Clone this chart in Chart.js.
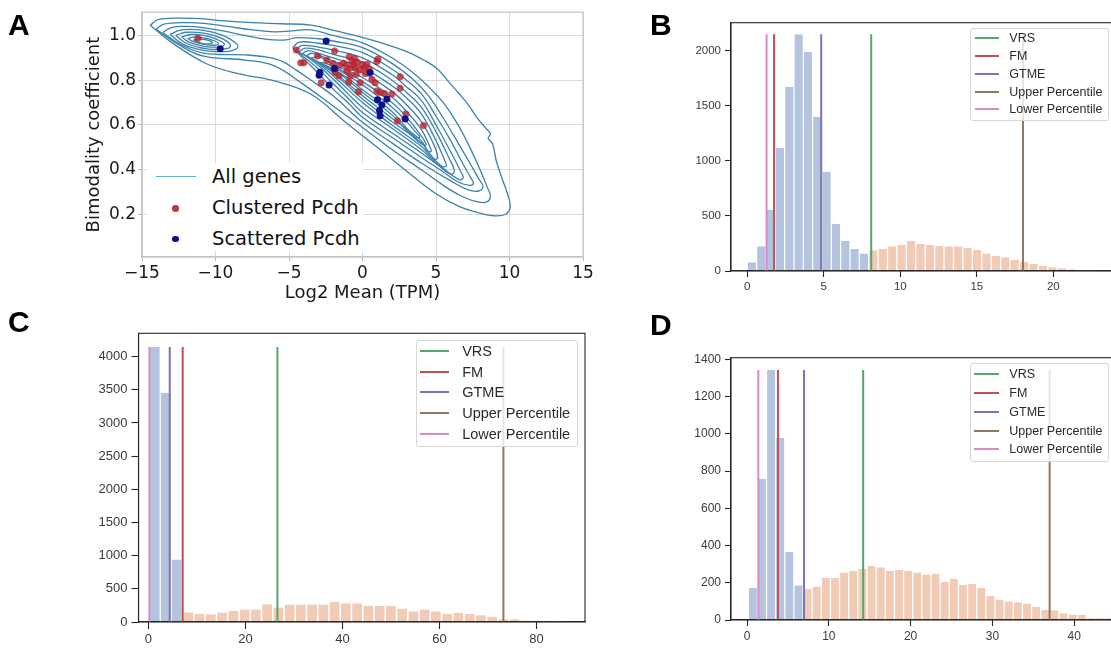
<!DOCTYPE html>
<html><head><meta charset="utf-8">
<script src="https://cdn.jsdelivr.net/npm/chart.js@4/dist/chart.umd.min.js"></script>
<style>
html,body{margin:0;padding:0;background:#fff;overflow:hidden;width:1111px;height:648px;}
#wrap{position:relative;width:1111px;height:648px;overflow:hidden;background:#fff;}
canvas{position:absolute;left:0;top:0;}
.letter{position:absolute;font-family:"Liberation Sans",Arial,sans-serif;font-weight:bold;font-size:30px;line-height:30px;color:#000;}
.box{position:absolute;box-sizing:border-box;}
.txt{position:absolute;white-space:nowrap;}
.sw{position:absolute;}
</style></head>
<body><div id="wrap">
<canvas id="cA" width="1130" height="660" style="width:1130px;height:660px"></canvas>
<canvas id="cB" width="1130" height="660" style="width:1130px;height:660px"></canvas>
<canvas id="cC" width="1130" height="660" style="width:1130px;height:660px"></canvas>
<canvas id="cD" width="1130" height="660" style="width:1130px;height:660px"></canvas>
<div class="letter" style="left:8px;top:10px">A</div>
<div class="letter" style="left:650px;top:10px">B</div>
<div class="letter" style="left:8px;top:307px">C</div>
<div class="letter" style="left:650px;top:310px">D</div>
</div>
<script>
// ================= DATA =================
// Panel A
const xTicksA = [-15, -10, -5, 0, 5, 10, 15];
const yTicksA = [0.2, 0.4, 0.6, 0.8, 1.0];
const legendA = ['All genes', 'Clustered Pcdh', 'Scattered Pcdh'];
const contourO1 = [[-14.45,1.045],[-13.9,1.07],[-12.5,1.077],[-11,1.075],[-9.4,1.065],[-7.5,1.057],[-5.5,1.052],[-3.5,1.046],[-1.8,1.02],[-0.2,0.995],[1.5,0.962],[3.2,0.922],[4.3,0.885],[5.1,0.85],[5.9,0.79],[6.5,0.745],[7.2,0.69],[7.8,0.632],[8.4,0.585],[8.7,0.56],[8.55,0.54],[8.85,0.515],[9.1,0.44],[9.5,0.36],[9.85,0.295],[10.05,0.235],[9.7,0.2],[8.8,0.195],[7.8,0.21],[6.6,0.235],[5.0,0.293],[3.2,0.383],[1.0,0.5],[-1.3,0.62],[-3.5,0.737],[-6.0,0.797],[-8.3,0.827],[-10.5,0.87],[-12.8,0.96],[-14.45,1.045]];
const contourO2 = [[-14.05,1.028],[-13.5,1.05],[-12,1.057],[-10.8,1.054],[-9.2,1.04],[-7.5,1.025],[-6,1.016],[-4.8,1.02],[-3.5,1.025],[-2,1.0],[0,0.967],[2,0.9],[3.5,0.83],[4.5,0.77],[5.5,0.7],[6.5,0.6],[7.3,0.5],[8.0,0.4],[8.5,0.32],[8.7,0.28],[8.4,0.255],[7.6,0.26],[6.5,0.29],[5.5,0.33],[4,0.4],[2,0.49],[0,0.589],[-2,0.685],[-4,0.78],[-6,0.864],[-8,0.89],[-10.8,0.907],[-12.5,0.958],[-14.05,1.028]];
const contourO3 = [[-13.6,1.013],[-13,1.035],[-12,1.04],[-10.8,1.034],[-9.5,1.02],[-8,1.0],[-6.5,0.982],[-5.2,0.98],[-4.5,0.99],[-3,0.985],[-2,0.975],[0,0.945],[2,0.875],[3.5,0.8],[4.5,0.73],[5.5,0.63],[6.5,0.52],[7.3,0.43],[7.9,0.36],[8.2,0.325],[7.9,0.305],[7.2,0.31],[6,0.35],[4,0.43],[2,0.52],[0,0.612],[-2,0.73],[-3.5,0.8],[-4.5,0.845],[-5.5,0.885],[-6.5,0.903],[-8,0.913],[-10.8,0.921],[-12.4,0.96],[-13.6,1.013]];
const contourL1 = [[-13.1,1.005],[-12.3,1.025],[-10.8,1.022],[-9.5,1.0],[-8.6,0.965],[-8.5,0.945],[-9.0,0.93],[-10.0,0.928],[-10.8,0.933],[-12.2,0.96],[-13.1,1.005]];
const contourL2 = [[-12.7,1.0],[-12,1.014],[-10.8,1.01],[-9.7,0.99],[-9.0,0.96],[-9.1,0.943],[-10,0.938],[-10.8,0.942],[-12,0.965],[-12.7,1.0]];
const contourL3 = [[-12.3,0.993],[-11.7,1.004],[-10.8,1.0],[-9.9,0.982],[-9.4,0.962],[-9.6,0.95],[-10.3,0.948],[-10.8,0.951],[-11.8,0.97],[-12.3,0.993]];
const contourL4 = [[-11.9,0.986],[-11.4,0.993],[-10.8,0.989],[-10.1,0.976],[-9.8,0.963],[-10.1,0.956],[-10.8,0.96],[-11.5,0.972],[-11.9,0.986]];
const contourL5 = [[-11.5,0.98],[-11.1,0.984],[-10.6,0.98],[-10.2,0.968],[-10.5,0.962],[-11.0,0.966],[-11.5,0.98]];
const contourR1 = [[-4.75,0.945],[-4.3,0.97],[-3,0.965],[-2,0.955],[0,0.923],[2,0.85],[3,0.8],[4,0.74],[5,0.64],[6,0.53],[6.8,0.43],[7.4,0.36],[7.55,0.34],[7.3,0.33],[6.5,0.345],[5.5,0.39],[4,0.455],[2,0.545],[0,0.634],[-1,0.7],[-2,0.76],[-3,0.83],[-4,0.895],[-4.75,0.945]];
const contourR2 = [[-4.55,0.935],[-4.1,0.955],[-3,0.948],[-2,0.935],[0,0.9],[2,0.825],[3,0.77],[4,0.71],[5,0.6],[6,0.48],[6.7,0.39],[6.85,0.365],[6.6,0.355],[5.5,0.405],[4,0.475],[2,0.565],[0,0.656],[-1,0.72],[-2,0.785],[-3,0.85],[-4,0.905],[-4.55,0.935]];
const contourR3 = [[-4.35,0.925],[-3.9,0.943],[-3,0.935],[-2,0.915],[0,0.878],[2,0.8],[3,0.745],[4,0.68],[5,0.57],[5.9,0.45],[6.25,0.395],[6.0,0.38],[5,0.43],[4,0.49],[2,0.585],[0,0.678],[-1,0.74],[-2,0.805],[-3,0.865],[-3.9,0.91],[-4.35,0.925]];
const contourR4 = [[-4.1,0.918],[-3.7,0.932],[-3,0.92],[-2,0.9],[0,0.856],[2,0.775],[3,0.72],[4,0.65],[5,0.53],[5.6,0.44],[5.7,0.418],[5.4,0.415],[4.5,0.47],[4,0.505],[2,0.6],[0,0.7],[-1,0.76],[-2,0.82],[-3,0.875],[-3.7,0.905],[-4.1,0.918]];
const contourR5 = [[-3.85,0.908],[-3.4,0.92],[-2,0.885],[0,0.834],[2,0.75],[3,0.69],[4,0.615],[4.8,0.52],[5.12,0.455],[4.9,0.447],[4,0.52],[2,0.615],[0,0.716],[-1,0.775],[-2,0.832],[-3,0.88],[-3.85,0.908]];
const contourR6 = [[-3.5,0.897],[-3,0.905],[-2,0.87],[0,0.812],[2,0.725],[3,0.66],[4,0.58],[4.6,0.5],[4.68,0.482],[4.4,0.485],[4,0.53],[2,0.63],[0,0.73],[-1,0.785],[-2,0.84],[-3,0.88],[-3.5,0.897]];
const contourR7 = [[-3,0.88],[-2.5,0.875],[-1,0.83],[0,0.794],[2,0.7],[3,0.635],[3.9,0.56],[4.33,0.512],[4.0,0.515],[3,0.575],[2,0.645],[0,0.745],[-1,0.8],[-2,0.85],[-3,0.88]];
const contourR8 = [[-2.3,0.855],[-1.5,0.84],[0,0.779],[1,0.73],[2,0.68],[3,0.615],[3.6,0.57],[3.9,0.545],[3.6,0.545],[3,0.585],[2,0.66],[1,0.71],[0,0.757],[-1,0.81],[-2.3,0.855]];
const clusteredPcdh = [[-11.2,0.987],[-4.5,0.935],[-4.2,0.878],[-4.0,0.878],[-3.06,0.908],[-2.81,0.789],[-2.42,0.89],[-1.9,0.93],[-2.0,0.875],[-1.86,0.834],[-1.56,0.867],[-1.29,0.876],[-1.06,0.841],[-1.1,0.866],[-0.93,0.792],[-0.84,0.819],[-0.8,0.855],[-0.72,0.886],[-0.6,0.87],[-0.54,0.898],[-0.5,0.856],[-0.43,0.827],[-0.35,0.88],[-0.27,0.748],[-0.2,0.845],[-0.16,0.789],[0.0,0.87],[0.12,0.856],[0.2,0.83],[0.3,0.871],[0.45,0.85],[0.64,0.804],[0.86,0.789],[0.98,0.883],[1.05,0.895],[0.98,0.752],[1.2,0.745],[1.5,0.74],[2.0,0.738],[2.56,0.815],[2.56,0.764],[2.95,0.649],[2.38,0.619],[4.15,0.597],[-0.9,0.905],[-1.6,0.82]];
const scatteredPcdh = [[-9.68,0.94],[-2.47,0.975],[-2.95,0.822],[-2.9,0.835],[-2.27,0.778],[-1.9,0.852],[0.52,0.834],[1.02,0.712],[1.32,0.69],[1.16,0.664],[1.2,0.641],[1.66,0.716],[2.9,0.627]];

// Panels B, C, D: shared legend labels
const cutoffLabels = ['VRS', 'FM', 'GTME', 'Upper Percentile', 'Lower Percentile'];

// Panel B
const lowCountsB = [79,224,557,1121,1673,2151,1994,1400,903,430,276,200,158];
const lowBinStartB = 0, lowBinWidthB = 0.61;
const highCountsB = [188,203,224,239,273,245,236,227,224,224,212,191,158,139,124,100,85,64,48,33,24,15,12,9];
const highBinStartB = 7.93, highBinWidthB = 0.616;
const cutoffsB = [8.1, 1.75, 4.83, 18.02, 1.26];
const xTicksB = [0, 5, 10, 15, 20];
const yTicksB = [0, 500, 1000, 1500, 2000];

// Panel C
const lowCountsC = [4145,3455,944];
const lowBinStartC = 0.19, lowBinWidthC = 2.25;
const highCountsC = [146,120,118,145,168,188,188,268,220,264,264,264,264,306,284,284,244,244,244,205,163,188,163,120,145,120,100,80,40,42,22,22,16,16];
const highBinStartC = 7.07, highBinWidthC = 2.32;
const cutoffsC = [26.6, 7.07, 4.4, 73.2, 0.2];
const xTicksC = [0, 20, 40, 60, 80];
const yTicksC = [0, 500, 1000, 1500, 2000, 2500, 3000, 3500, 4000];

// Panel D
const lowCountsD = [172,757,1343,978,366,186];
const lowBinStartD = 0.16, lowBinWidthD = 1.114;
const highCountsD = [168,180,225,225,255,263,275,290,283,265,270,263,255,245,250,206,222,188,195,172,130,110,100,95,88,70,55,52,36,30,28,10,10,10];
const highBinStartD = 6.84, highBinWidthD = 1.118;
const cutoffsD = [14.2, 3.78, 6.97, 37.0, 1.38];
const xTicksD = [0, 10, 20, 30, 40];
const yTicksD = [0, 200, 400, 600, 800, 1000, 1200, 1400];

// ================= STYLE / LAYOUT =================
const CW = 1130, CH = 660;
const FONT_A = '"DejaVu Sans", sans-serif';
const FONT_H = '"Liberation Sans", Arial, sans-serif';
const cutoffColors = ['#55a868', '#c44e52', '#8172b2', '#937860', '#da8bc3'];
const LOW_COLOR = 'rgba(76,114,176,0.42)';
const HIGH_COLOR = 'rgba(221,132,82,0.42)';
const CONTOUR_COLOR = '#3b82ad';

const spinesPlugin = {
  id: 'spines',
  afterDatasetsDraw(chart, args, opts) {
    const {ctx, chartArea: a} = chart;
    ctx.save();
    ctx.strokeStyle = opts.color;
    ctx.lineWidth = opts.width;
    ctx.strokeRect(a.left, a.top, a.right - a.left, a.bottom - a.top);
    ctx.restore();
  }
};
Chart.register(spinesPlugin);

function pts(arr) { return arr.map(p => ({x: p[0], y: p[1]})); }
function fixTicks(list) { return s => { s.ticks = list.map(v => ({value: v})); }; }
function pad(area, yw, xh) {
  return {left: area[0] - yw, top: area[1], right: CW - area[2], bottom: CH - area[3] - xh};
}

// ================= PANEL A =================
(function () {
  const area = [142, 11, 583, 257];
  const yw = 60, xh = 46.8;
  const contours = [contourO1, contourO2, contourO3, contourL1, contourL2, contourL3, contourL4, contourL5,
    contourR1, contourR2, contourR3, contourR4, contourR5, contourR6, contourR7, contourR8];
  const datasets = contours.map((c, i) => ({
    label: i === 0 ? legendA[0] : '', data: pts(c), showLine: true, pointRadius: 0,
    borderColor: CONTOUR_COLOR, borderWidth: 1.3, tension: 0.4, fill: false, order: 3
  }));
  datasets.push({label: legendA[1], data: pts(clusteredPcdh), pointRadius: 3.5, borderWidth: 0,
    backgroundColor: 'rgba(186,34,44,0.8)', order: 2});
  datasets.push({label: legendA[2], data: pts(scatteredPcdh), pointRadius: 3.5, borderWidth: 0,
    backgroundColor: '#0c108c', order: 1});
  const tickFont = {family: FONT_A, size: 17};
  new Chart(document.getElementById('cA'), {
    type: 'scatter',
    data: {datasets},
    options: {
      responsive: false, animation: false, devicePixelRatio: 1,
      layout: {autoPadding: false, padding: pad(area, yw, xh)},
      plugins: {legend: {display: false}, tooltip: {enabled: false}, spines: {color: '#c4c4c4', width: 1.2}},
      scales: {
        x: {type: 'linear', min: -15, max: 15,
          afterBuildTicks: fixTicks(xTicksA), afterFit: s => { s.height = xh; },
          grid: {color: '#dcdcdc', lineWidth: 1, tickLength: 4, tickColor: '#bdbdbd'},
          border: {display: true, color: '#c4c4c4', width: 1.2},
          ticks: {font: tickFont, color: '#1a1a1a', padding: 2, maxRotation: 0, autoSkip: false,
            callback: v => (v < 0 ? '\u2212' : '') + Math.abs(v)},
          title: {display: true, text: 'Log2 Mean (TPM)', font: {family: FONT_A, size: 18}, color: '#1a1a1a', padding: {top: 0, bottom: 0}}
        },
        y: {type: 'linear', min: 0.0102, max: 1.1036,
          afterBuildTicks: fixTicks(yTicksA), afterFit: s => { s.width = yw; },
          grid: {color: '#dcdcdc', lineWidth: 1, tickLength: 4, tickColor: '#bdbdbd'},
          border: {display: true, color: '#c4c4c4', width: 1.2},
          ticks: {font: tickFont, color: '#1a1a1a', padding: 2, autoSkip: false, callback: v => v.toFixed(1)},
          title: {display: true, text: 'Bimodality coefficient', font: {family: FONT_A, size: 18}, color: '#1a1a1a', padding: {top: 2, bottom: 0}}
        }
      }
    }
  });
  // legend A
  const wrap = document.getElementById('wrap');
  const box = document.createElement('div');
  box.className = 'box';
  Object.assign(box.style, {left: '147px', top: '163px', width: '216px', height: '88px', background: '#fff'});
  wrap.appendChild(box);
  const rows = [176.7, 208.3, 239];
  const line = document.createElement('div');
  line.className = 'sw';
  Object.assign(line.style, {left: '156px', top: (rows[0] - 0.75) + 'px', width: '40px', height: '1.5px', background: '#66b0c9'});
  wrap.appendChild(line);
  [['rgba(186,34,44,0.9)', rows[1]], ['#0c108c', rows[2]]].forEach(([c, y]) => {
    const d = document.createElement('div');
    d.className = 'sw';
    Object.assign(d.style, {left: (175.7 - 3.3) + 'px', top: (y - 3.3) + 'px', width: '6.6px', height: '6.6px', borderRadius: '50%', background: c});
    wrap.appendChild(d);
  });
  legendA.forEach((t, i) => {
    const s = document.createElement('div');
    s.className = 'txt';
    s.textContent = t;
    Object.assign(s.style, {left: '212px', top: (rows[i] - 12) + 'px', height: '24px', lineHeight: '24px',
      fontFamily: FONT_A, fontSize: '19.5px', color: '#111'});
    wrap.appendChild(s);
  });
})();

// ================= HISTOGRAMS =================
function histogram(id, d, L) {
  const low = d.low.map((c, i) => ({x: d.lowStart + (i + 0.5) * d.lowWidth, y: c}));
  const high = d.high.map((c, i) => ({x: d.highStart + (i + 0.5) * d.highWidth, y: c}));
  const top = Math.max(...d.low, ...d.high);
  const barStyle = {grouped: false, categoryPercentage: 1, barPercentage: 1, borderColor: '#ffffff',
    borderWidth: {left: 0.6, right: 0.6, top: 0, bottom: 0}, borderSkipped: false, inflateAmount: 0, order: 2};
  const datasets = [
    Object.assign({type: 'bar', label: 'low', data: low, backgroundColor: LOW_COLOR}, barStyle),
    Object.assign({type: 'bar', label: 'high', data: high, backgroundColor: HIGH_COLOR}, barStyle)
  ];
  cutoffLabels.forEach((lab, i) => {
    datasets.push({type: 'line', label: lab, data: [{x: d.cuts[i], y: 0}, {x: d.cuts[i], y: top}],
      borderColor: cutoffColors[i], borderWidth: 2, pointRadius: 0, fill: false, order: 1});
  });
  const tickFont = {family: FONT_H, size: L.font};
  new Chart(document.getElementById(id), {
    type: 'bar',
    data: {datasets},
    options: {
      responsive: false, animation: false, devicePixelRatio: 1,
      layout: {autoPadding: false, padding: pad(L.area, L.yw, L.xh)},
      plugins: {legend: {display: false}, tooltip: {enabled: false}, spines: {color: '#262626', width: 1.1}},
      scales: {
        x: {type: 'linear', min: L.xMin, max: L.xMax, offset: false,
          afterBuildTicks: fixTicks(d.xTicks), afterFit: s => { s.height = L.xh; },
          grid: {offset: false, drawOnChartArea: false, drawTicks: true, tickLength: L.tick, tickColor: '#262626', tickWidth: 1.1},
          border: {display: true, color: '#262626', width: 1.1},
          ticks: {font: tickFont, color: '#3a3a3a', padding: 3, maxRotation: 0, autoSkip: false, callback: v => String(v)}
        },
        y: {type: 'linear', min: 0, max: L.yMax,
          afterBuildTicks: fixTicks(d.yTicks), afterFit: s => { s.width = L.yw; },
          grid: {drawOnChartArea: false, drawTicks: true, tickLength: L.tick, tickColor: '#262626', tickWidth: 1.1},
          border: {display: true, color: '#262626', width: 1.1},
          ticks: {font: tickFont, color: '#3a3a3a', padding: 4, autoSkip: false, callback: v => String(v)}
        }
      }
    }
  });
  // legend
  const wrap = document.getElementById('wrap');
  const g = L.legend;
  const box = document.createElement('div');
  box.className = 'box';
  Object.assign(box.style, {left: g.box[0] + 'px', top: g.box[1] + 'px', width: (g.box[2] - g.box[0]) + 'px',
    height: (g.box[3] - g.box[1]) + 'px', background: 'rgba(255,255,255,0.8)', border: '1px solid #d6d6d6', borderRadius: '3px'});
  wrap.appendChild(box);
  cutoffLabels.forEach((t, i) => {
    const y = g.rows[i];
    const sw = document.createElement('div');
    sw.className = 'sw';
    Object.assign(sw.style, {left: g.sample[0] + 'px', top: (y - 1) + 'px', width: (g.sample[1] - g.sample[0]) + 'px', height: '2px', background: cutoffColors[i]});
    wrap.appendChild(sw);
    const s = document.createElement('div');
    s.className = 'txt';
    s.textContent = t;
    Object.assign(s.style, {left: g.textX + 'px', top: (y - 10) + 'px', height: '20px', lineHeight: '20px',
      fontFamily: FONT_H, fontSize: g.font + 'px', color: '#2a2a2a'});
    wrap.appendChild(s);
  });
}

histogram('cB',
  {low: lowCountsB, lowStart: lowBinStartB, lowWidth: lowBinWidthB, high: highCountsB, highStart: highBinStartB, highWidth: highBinWidthB,
   cuts: cutoffsB, xTicks: xTicksB, yTicks: yTicksB},
  {area: [731, 22.7, 1120, 271], xMin: -1.065, xMax: 24.36, yMax: 2257, yw: 50, xh: 30, tick: 6, font: 11.5,
   legend: {box: [970, 28.3, 1108.5, 120.7], sample: [975, 999.3], textX: 1009.3, rows: [38.3, 56, 74, 91.7, 109.3], font: 12.5}});

histogram('cC',
  {low: lowCountsC, lowStart: lowBinStartC, lowWidth: lowBinWidthC, high: highCountsC, highStart: highBinStartC, highWidth: highBinWidthC,
   cuts: cutoffsC, xTicks: xTicksC, yTicks: yTicksC},
  {area: [138.5, 333.3, 585, 622], xMin: -2.04, xMax: 90.02, yMax: 4352, yw: 55, xh: 30, tick: 7, font: 13,
   legend: {box: [415.7, 340, 578.2, 447.3], sample: [419.9, 449.1], textX: 462.2, rows: [350.7, 372.3, 392.3, 413.3, 434], font: 14.5}});

histogram('cD',
  {low: lowCountsD, lowStart: lowBinStartD, lowWidth: lowBinWidthD, high: highCountsD, highStart: highBinStartD, highWidth: highBinWidthD,
   cuts: cutoffsD, xTicks: xTicksD, yTicks: yTicksD},
  {area: [731, 357.7, 1120, 620], xMin: -1.96, xMax: 45.6, yMax: 1408.6, yw: 50, xh: 30, tick: 6, font: 12,
   legend: {box: [970, 363.3, 1109.3, 461.7], sample: [974.3, 999], textX: 1009.3, rows: [374.3, 393.3, 411.7, 431, 449], font: 12.5}});
</script>
</body></html>
